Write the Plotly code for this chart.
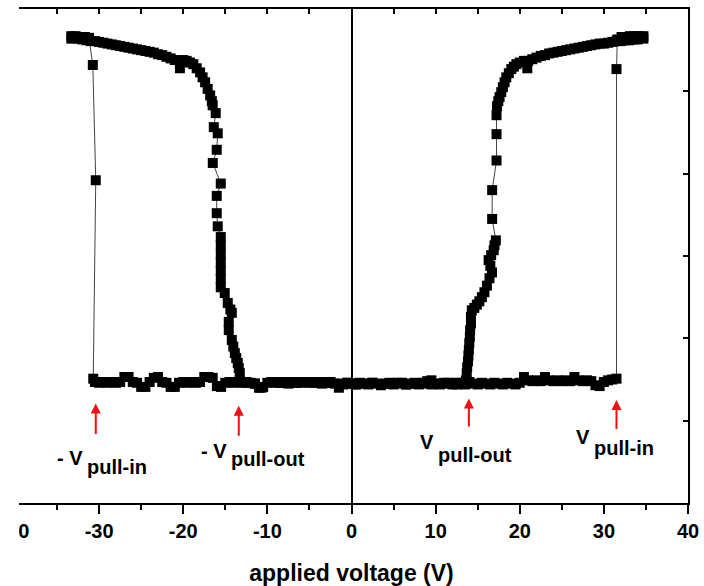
import plotly.graph_objects as go

# ---------------- data ----------------
# sweep 1: 0 V -> +34.7 V (forward, pull-in at +31.5 V)
v_fwd_pos = [0, 0.5, 1, 1.5, 2, 2.5, 3, 3.5, 4, 4.5,
             5, 5.5, 6, 6.5, 7, 7.5, 8, 8.5, 9, 9.5,
             10, 10.5, 11, 11.5, 12, 12.5, 13, 13.5, 14, 14.5,
             15, 15.5, 16, 16.5, 17, 17.5, 18, 18.5, 19, 19.5,
             20, 20.5, 21, 21.5, 22, 22.5, 23, 23.5, 24, 24.5,
             25, 25.5, 26, 26.5, 27, 27.5, 28, 28.5, 29, 29.5,
             30, 30.5, 31, 31.5, 31.5, 31.6, 32.1, 32.6, 33.1, 33.6,
             34.1, 34.7]
c_fwd_pos = [1.45, 1.44, 1.46, 1.45, 1.44, 1.46, 1.45, 1.43, 1.45, 1.46,
             1.44, 1.45, 1.46, 1.44, 1.45, 1.46, 1.44, 1.45, 1.48, 1.49,
             1.45, 1.44, 1.46, 1.45, 1.44, 1.46, 1.45, 1.44, 1.47, 1.45,
             1.44, 1.46, 1.45, 1.44, 1.46, 1.45, 1.44, 1.46, 1.45, 1.44,
             1.46, 1.53, 1.49, 1.48, 1.49, 1.48, 1.53, 1.49, 1.48, 1.49,
             1.48, 1.49, 1.48, 1.53, 1.49, 1.48, 1.49, 1.48, 1.43, 1.42,
             1.47, 1.49, 1.50, 1.51, 5.27, 5.63, 5.66, 5.66, 5.67, 5.67,
             5.67, 5.67]

# sweep 2: +34.7 V -> 0 V (backward, pull-out near +14 V)
v_bwd_pos = [34.7, 34.0, 33.5, 33.0, 32.5, 32.0, 31.5, 31.0, 30.5, 30.0,
             29.5, 29.0, 28.5, 28.0, 27.5, 27.0, 26.5, 26.0, 25.5, 25.0,
             24.5, 24.0, 23.5, 23.0, 22.5, 22.0, 21.5, 21.0, 20.9, 20.5,
             20.0, 19.6, 19.3, 19.0, 18.7, 18.4, 18.2, 18.0, 17.8, 17.6,
             17.45, 17.3, 17.24, 17.24, 17.24, 16.72, 16.72, 17.16, 17.0, 16.9,
             16.6, 16.3, 16.5, 16.7, 16.4, 16.1, 15.8, 15.5, 15.2, 14.9,
             14.6, 14.3, 14.2, 14.2, 14.1, 14.07, 14.0, 13.95, 13.9, 13.85,
             13.75, 13.7, 13.6, 13.1, 12.5, 11.5, 10.5, 9.5, 8.5, 7.5,
             6.5, 5.5, 4.5, 3.5, 2.5, 1.5, 0.5, 0]
c_bwd_pos = [5.64, 5.63, 5.63, 5.62, 5.62, 5.61, 5.61, 5.60, 5.59, 5.58,
             5.58, 5.57, 5.56, 5.55, 5.54, 5.53, 5.52, 5.51, 5.50, 5.49,
             5.48, 5.47, 5.46, 5.44, 5.43, 5.41, 5.39, 5.37, 5.28, 5.37,
             5.35, 5.33, 5.30, 5.27, 5.22, 5.17, 5.11, 5.05, 4.99, 4.93,
             4.88, 4.82, 4.71, 4.48, 4.16, 3.80, 3.45, 3.19, 3.13, 3.07,
             3.01, 2.95, 2.88, 2.80, 2.73, 2.64, 2.56, 2.50, 2.45, 2.41,
             2.37, 2.34, 2.26, 2.18, 2.10, 2.02, 1.94, 1.86, 1.79, 1.72,
             1.65, 1.58, 1.49, 1.46, 1.44, 1.46, 1.45, 1.44, 1.46, 1.45,
             1.44, 1.46, 1.45, 1.44, 1.46, 1.45, 1.44, 1.45]

# sweep 3: 0 V -> -33.3 V (forward, pull-in at -30.7 V)
v_fwd_neg = [-0.5, -1, -1.5, -2, -2.5, -3, -3.5, -4, -4.5, -5,
             -5.5, -6, -6.5, -7, -7.5, -8, -8.5, -9, -9.5, -10,
             -10.5, -11, -11.5, -12, -12.5, -13, -13.5, -14, -14.5, -15,
             -15.5, -16, -16.5, -17, -17.5, -18, -18.5, -19, -19.5, -20,
             -20.5, -21, -21.5, -22, -22.5, -23, -23.5, -24, -24.5, -25,
             -25.5, -26, -26.5, -27, -27.5, -28, -28.5, -29, -29.5, -30,
             -30.5, -30.7, -30.4, -30.75, -31.2, -31.7, -32.2, -32.8, -33.3]
c_fwd_neg = [1.46, 1.44, 1.40, 1.45, 1.47, 1.46, 1.47, 1.46, 1.47, 1.46,
             1.47, 1.46, 1.47, 1.46, 1.47, 1.46, 1.47, 1.46, 1.47, 1.46,
             1.41, 1.40, 1.45, 1.46, 1.47, 1.46, 1.47, 1.46, 1.47, 1.46,
             1.41, 1.42, 1.52, 1.53, 1.53, 1.47, 1.46, 1.47, 1.46, 1.47,
             1.46, 1.41, 1.41, 1.46, 1.47, 1.53, 1.52, 1.47, 1.41, 1.41,
             1.46, 1.47, 1.53, 1.53, 1.47, 1.46, 1.47, 1.46, 1.47, 1.46,
             1.47, 1.51, 3.92, 5.32, 5.65, 5.66, 5.66, 5.67, 5.67]

# sweep 4: -33.3 V -> 0 V (backward, pull-out near -13.3 V)
v_bwd_neg = [-33.3, -32.5, -32, -31.5, -31, -30.5, -30, -29.5, -29, -28.5,
             -28, -27.5, -27, -26.5, -26, -25.5, -25, -24.5, -24, -23.5,
             -23, -22.5, -22, -21.5, -21, -20.4, -20, -19.6, -19.2, -18.8,
             -18.4, -18.0, -17.7, -17.4, -17.1, -16.8, -16.6, -16.5, -16.14, -16.37,
             -15.90, -16.02, -16.49, -15.54, -16.02, -16.02, -15.9, -15.54, -15.54, -15.54,
             -15.54, -15.54, -15.54, -15.54, -15.07, -14.71, -14.4, -14.23, -14.59, -14.59,
             -14.23, -14.05, -13.87, -13.7, -13.52, -13.4, -13.28, -13.28, -12.5, -11.5,
             -10.7, -9.5, -8.5, -7.5, -6.5, -5.5, -4.5, -3.5, -2.5, -1.5,
             -0.5, 0]
c_bwd_neg = [5.64, 5.64, 5.63, 5.62, 5.61, 5.61, 5.60, 5.59, 5.58, 5.57,
             5.56, 5.55, 5.54, 5.53, 5.52, 5.51, 5.50, 5.49, 5.48, 5.47,
             5.45, 5.44, 5.42, 5.40, 5.38, 5.28, 5.38, 5.37, 5.35, 5.33,
             5.28, 5.23, 5.17, 5.11, 5.03, 4.95, 4.88, 4.83, 4.735, 4.565,
             4.49, 4.29, 4.13, 3.88, 3.73, 3.52, 3.36, 3.23, 3.13, 3.02,
             2.92, 2.82, 2.72, 2.62, 2.55, 2.43, 2.35, 2.31, 2.20, 2.10,
             1.98, 1.90, 1.82, 1.76, 1.70, 1.64, 1.58, 1.49, 1.46, 1.45,
             1.40, 1.47, 1.46, 1.45, 1.46, 1.47, 1.46, 1.45, 1.46, 1.45,
             1.46, 1.45]

# x tick labels
x_tick_vals = [-40, -30, -20, -10, 0, 10, 20, 30, 40]
x_tick_text = ["-40", "-30", "-20", "-10", "0", "10", "20", "30", "40"]

# marked voltages (arrows) and their labels
mark_v = [-30.4, -13.4, 13.95, 31.5]
mark_main = ["- V", "- V", "V", "V"]
mark_sub = ["pull-in", "pull-out", "pull-out", "pull-in"]

# ---------------- figure ----------------
W, H = 704, 586
ML, MR, MT, MB = 15, 16, 9, 83
PW, PH = W - ML - MR, H - MT - MB
FONT = "Liberation Sans, Arial, sans-serif"

volts = v_fwd_pos + v_bwd_pos + v_fwd_neg + v_bwd_neg
caps = c_fwd_pos + c_bwd_pos + c_fwd_neg + c_bwd_neg

fig = go.Figure()
fig.add_trace(go.Scatter(
    x=volts, y=caps, mode="lines+markers",
    line=dict(color="#444444", width=1),
    marker=dict(symbol="square", size=10, color="black", line=dict(width=0)),
    showlegend=False, hoverinfo="x+y",
))
fig.add_trace(go.Scatter(x=[], y=[], xaxis="x2", showlegend=False))

# arrows
arrow_tip = [1.21, 1.18, 1.27, 1.25]
arrow_tail = [0.82, 0.80, 0.91, 0.88]
for v, yt, yb in zip(mark_v, arrow_tip, arrow_tail):
    fig.add_annotation(x=v, y=yt, ax=v, ay=yb, xref="x", yref="y",
                       axref="x", ayref="y", text="", showarrow=True,
                       arrowhead=2, arrowsize=1.0, arrowwidth=2,
                       arrowcolor="#ee1111", standoff=0)

# labels: main part right-anchored at join, subscript left-anchored
join_v = [-31.7, -14.6, 10.05, 28.55]
main_y = [0.55, 0.628, 0.738, 0.798]
sub_y = [0.434, 0.531, 0.580, 0.665]
lab_font = dict(family=FONT, size=20, color="black", weight="bold")
for jv, t1, t2, y1, y2 in zip(join_v, mark_main, mark_sub, main_y, sub_y):
    fig.add_annotation(x=jv, y=y1, text=t1, showarrow=False, xanchor="right",
                       yanchor="middle", font=lab_font)
    fig.add_annotation(x=jv, y=y2, text=t2, showarrow=False, xanchor="left",
                       yanchor="middle", font=lab_font)

# white mask over the cropped left edge (as in the reference image)
fig.add_shape(type="rect", xref="paper", yref="paper",
              x0=-(ML + 5) / PW, x1=4 / PW, y0=-(MB + 5) / PH, y1=1 + (MT + 5) / PH,
              fillcolor="white", line=dict(width=0), layer="above")

fig.update_layout(
    template="none",
    width=W, height=H, autosize=False,
    margin=dict(l=ML, r=MR, t=MT, b=MB, pad=0),
    paper_bgcolor="white", plot_bgcolor="white",
    font=dict(family=FONT, color="black"),
    xaxis=dict(
        automargin=False,
        range=[-40, 40], tickmode="array", tickvals=x_tick_vals, ticktext=x_tick_text,
        ticks="outside", ticklen=9, tickwidth=2, tickcolor="black",
        ticklabelstandoff=0,
        minor=dict(dtick=5, tick0=0, ticks="outside", ticklen=5, tickwidth=2,
                   tickcolor="black", showgrid=False),
        showline=True, linewidth=2, linecolor="black",
        zeroline=True, zerolinecolor="black", zerolinewidth=2,
        showgrid=False,
        tickfont=dict(family=FONT, size=20, color="black", weight="bold"),
        title=dict(text="applied voltage (V)", standoff=28,
                   font=dict(family=FONT, size=23, color="black", weight="bold")),
    ),
    xaxis2=dict(
        automargin=False,
        range=[-40, 40], overlaying="x", side="top", tick0=0, dtick=5,
        ticks="inside", ticklen=5, tickwidth=1.5, tickcolor="black",
        showline=True, linewidth=1.5, linecolor="black",
        showticklabels=False, showgrid=False, zeroline=False,
    ),
    yaxis=dict(
        automargin=False,
        range=[0, 6], side="right", tickmode="array", tickvals=[1, 2, 3, 4, 5],
        ticks="inside", ticklen=5, tickwidth=2, tickcolor="black",
        showline=True, linewidth=2, linecolor="black",
        showticklabels=False, showgrid=False, zeroline=False,
    ),
)

fig.write_html("out.html")
